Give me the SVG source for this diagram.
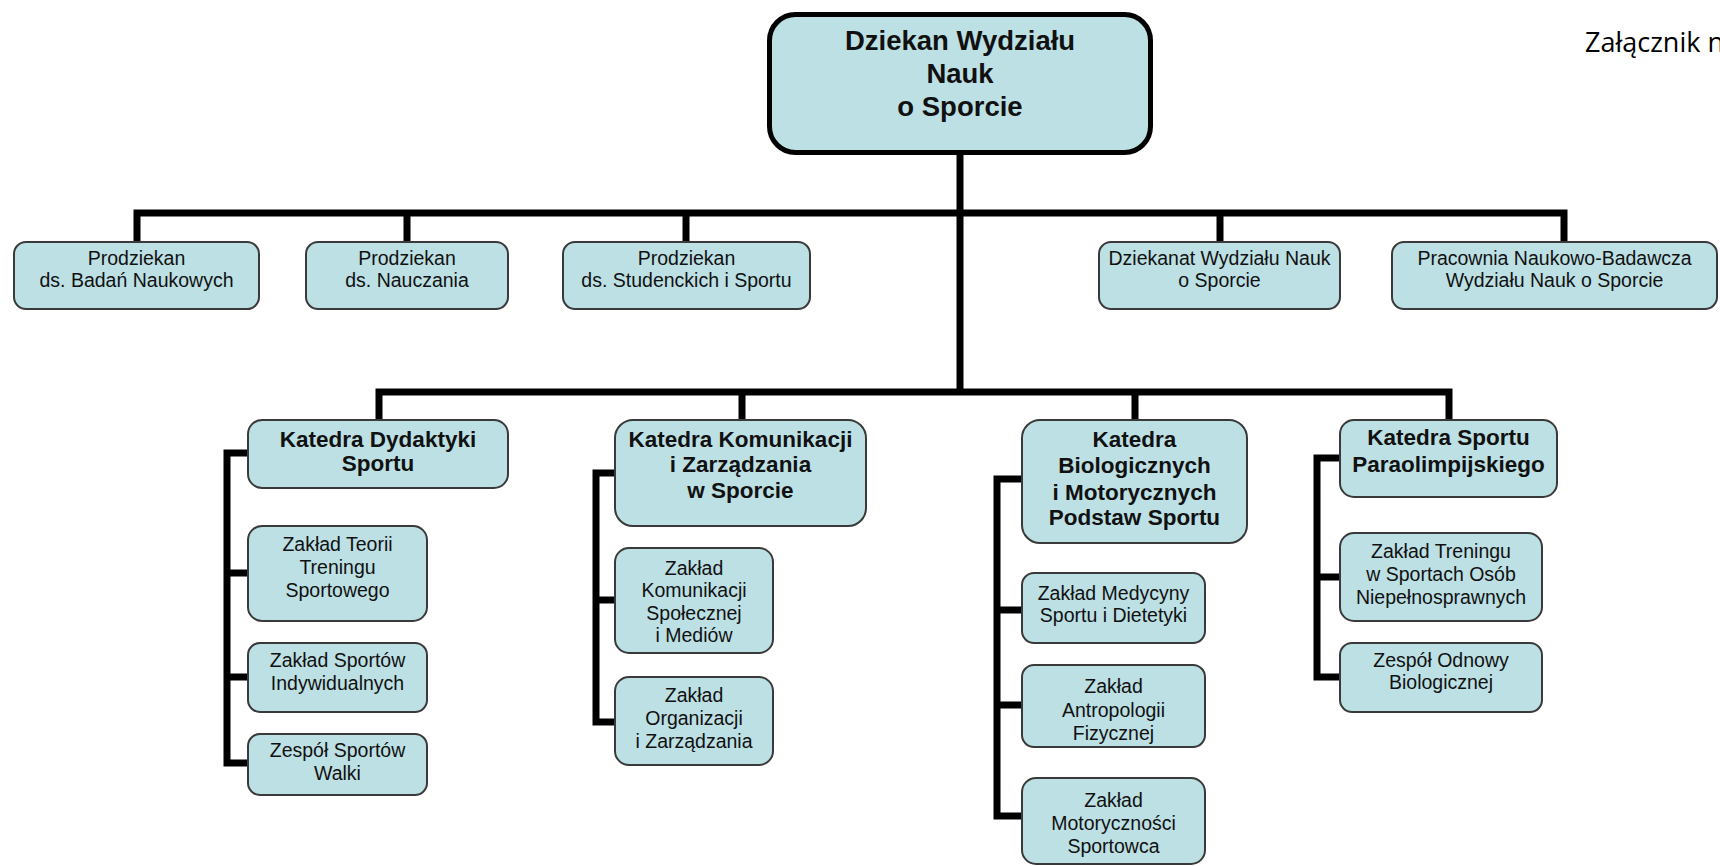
<svg xmlns="http://www.w3.org/2000/svg" width="1720" height="866" viewBox="0 0 1720 866">
<style>
.box{fill:#bce0e4;stroke:#3a3a3a;stroke-width:2}
.top{fill:#bce0e4;stroke:#000;stroke-width:5}
.t{font-family:"Liberation Sans",Arial,sans-serif;font-size:19.5px;fill:#111;text-anchor:middle}
.b{font-family:"Liberation Sans",Arial,sans-serif;font-size:22.5px;font-weight:bold;fill:#111;text-anchor:middle}
.bt{font-family:"Liberation Sans",Arial,sans-serif;font-size:27.5px;font-weight:bold;fill:#111;text-anchor:middle}
.c{fill:none;stroke:#000;stroke-width:7;stroke-linejoin:miter;stroke-linecap:butt}
</style>
<rect width="1720" height="866" fill="#fff"/>
<text x="1585" y="52" font-family="'Open Sans','Noto Sans',sans-serif" font-size="27" fill="#000">Załącznik n</text>
<g id="connectors">
<path class="c" d="M960 155 V392"/>
<path class="c" d="M137 242 V213 H1564 V242"/>
<path class="c" d="M407 213 V242 M686 213 V242 M1220 213 V242"/>
<path class="c" d="M379 420 V392 H1449 V420"/>
<path class="c" d="M742 392 V420 M1135 392 V420"/>
<path class="c" d="M248 453 H227 V763 H248 M227 573 H248 M227 677 H248"/>
<path class="c" d="M615 473 H596 V722 H615 M596 600 H615"/>
<path class="c" d="M1022 479 H997 V816 H1022 M997 610 H1022 M997 705 H1022"/>
<path class="c" d="M1340 458 H1317 V677 H1340 M1317 577 H1340"/>
</g>
<g id="dziekan">
<rect class="top" x="769.5" y="14.5" width="381" height="138" rx="26"/>
<text class="bt" x="960" y="50">Dziekan Wydziału</text>
<text class="bt" x="960" y="83">Nauk</text>
<text class="bt" x="960" y="116">o Sporcie</text>
</g>
<g id="prodziekan-badan">
<rect class="box" x="14" y="242" width="245" height="67" rx="12"/>
<text class="t" x="136.5" y="265">Prodziekan</text>
<text class="t" x="136.5" y="287">ds. Badań Naukowych</text>
</g>
<g id="prodziekan-nauczania">
<rect class="box" x="306" y="242" width="202" height="67" rx="12"/>
<text class="t" x="407" y="265">Prodziekan</text>
<text class="t" x="407" y="287">ds. Nauczania</text>
</g>
<g id="prodziekan-studenckich">
<rect class="box" x="563" y="242" width="247" height="67" rx="12"/>
<text class="t" x="686.5" y="265">Prodziekan</text>
<text class="t" x="686.5" y="287">ds. Studenckich i Sportu</text>
</g>
<g id="dziekanat">
<rect class="box" x="1099" y="242" width="241" height="67" rx="12"/>
<text class="t" x="1219.5" y="265">Dziekanat Wydziału Nauk</text>
<text class="t" x="1219.5" y="287">o Sporcie</text>
</g>
<g id="pracownia">
<rect class="box" x="1392" y="242" width="325" height="67" rx="12"/>
<text class="t" x="1554.5" y="265">Pracownia Naukowo-Badawcza</text>
<text class="t" x="1554.5" y="287">Wydziału Nauk o Sporcie</text>
</g>
<g id="katedra-dydaktyki">
<rect class="box" x="248" y="420" width="260" height="68" rx="14"/>
<text class="b" x="378" y="447">Katedra Dydaktyki</text>
<text class="b" x="378" y="471">Sportu</text>
</g>
<g id="zaklad-teorii">
<rect class="box" x="248" y="526" width="179" height="95" rx="14"/>
<text class="t" x="337.5" y="551">Zakład Teorii</text>
<text class="t" x="337.5" y="574">Treningu</text>
<text class="t" x="337.5" y="597">Sportowego</text>
</g>
<g id="zaklad-indywidualnych">
<rect class="box" x="248" y="643" width="179" height="69" rx="12"/>
<text class="t" x="337.5" y="667">Zakład Sportów</text>
<text class="t" x="337.5" y="690">Indywidualnych</text>
</g>
<g id="zespol-walki">
<rect class="box" x="248" y="734" width="179" height="61" rx="12"/>
<text class="t" x="337.5" y="757">Zespół Sportów</text>
<text class="t" x="337.5" y="780">Walki</text>
</g>
<g id="katedra-komunikacji">
<rect class="box" x="615" y="420" width="251" height="106" rx="18"/>
<text class="b" x="740.5" y="447">Katedra Komunikacji</text>
<text class="b" x="740.5" y="472">i Zarządzania</text>
<text class="b" x="740.5" y="498">w Sporcie</text>
</g>
<g id="zaklad-komunikacji">
<rect class="box" x="615" y="548" width="158" height="105" rx="14"/>
<text class="t" x="694" y="575">Zakład</text>
<text class="t" x="694" y="597">Komunikacji</text>
<text class="t" x="694" y="620">Społecznej</text>
<text class="t" x="694" y="642">i Mediów</text>
</g>
<g id="zaklad-organizacji">
<rect class="box" x="615" y="677" width="158" height="88" rx="14"/>
<text class="t" x="694" y="702">Zakład</text>
<text class="t" x="694" y="725">Organizacji</text>
<text class="t" x="694" y="748">i Zarządzania</text>
</g>
<g id="katedra-biologicznych">
<rect class="box" x="1022" y="420" width="225" height="123" rx="18"/>
<text class="b" x="1134.5" y="447">Katedra</text>
<text class="b" x="1134.5" y="473">Biologicznych</text>
<text class="b" x="1134.5" y="500">i Motorycznych</text>
<text class="b" x="1134.5" y="525">Podstaw Sportu</text>
</g>
<g id="zaklad-medycyny">
<rect class="box" x="1022" y="573" width="183" height="70" rx="12"/>
<text class="t" x="1113.5" y="600">Zakład Medycyny</text>
<text class="t" x="1113.5" y="622">Sportu i Dietetyki</text>
</g>
<g id="zaklad-antropologii">
<rect class="box" x="1022" y="665" width="183" height="82" rx="12"/>
<text class="t" x="1113.5" y="693">Zakład</text>
<text class="t" x="1113.5" y="717">Antropologii</text>
<text class="t" x="1113.5" y="740">Fizycznej</text>
</g>
<g id="zaklad-motorycznosci">
<rect class="box" x="1022" y="778" width="183" height="86" rx="14"/>
<text class="t" x="1113.5" y="807">Zakład</text>
<text class="t" x="1113.5" y="830">Motoryczności</text>
<text class="t" x="1113.5" y="853">Sportowca</text>
</g>
<g id="katedra-paraolimpijskiego">
<rect class="box" x="1340" y="420" width="217" height="77" rx="14"/>
<text class="b" x="1448.5" y="445">Katedra Sportu</text>
<text class="b" x="1448.5" y="472">Paraolimpijskiego</text>
</g>
<g id="zaklad-treningu">
<rect class="box" x="1340" y="533" width="202" height="88" rx="14"/>
<text class="t" x="1441" y="558">Zakład Treningu</text>
<text class="t" x="1441" y="581">w Sportach Osób</text>
<text class="t" x="1441" y="604">Niepełnosprawnych</text>
</g>
<g id="zespol-odnowy">
<rect class="box" x="1340" y="643" width="202" height="69" rx="12"/>
<text class="t" x="1441" y="667">Zespół Odnowy</text>
<text class="t" x="1441" y="689">Biologicznej</text>
</g>
</svg>
